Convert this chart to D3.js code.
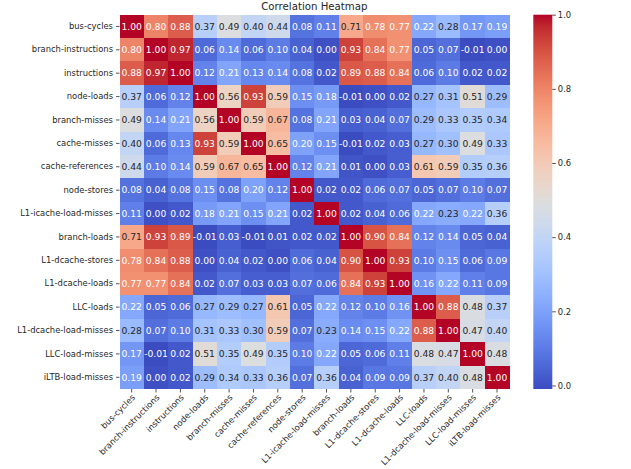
<!DOCTYPE html>
<html>
<head>
<meta charset="utf-8">
<script src="https://cdn.jsdelivr.net/npm/d3@7"></script>
<style>
  body { margin: 0; background: #fff; }
  text { font-family: "DejaVu Sans", sans-serif; }
</style>
</head>
<body>
<svg id="chart"></svg>
<script>
// counters, in row/column order
const labels = ["bus-cycles", "branch-instructions", "instructions", "node-loads", "branch-misses",
  "cache-misses", "cache-references", "node-stores", "L1-icache-load-misses", "branch-loads",
  "L1-dcache-stores", "L1-dcache-loads", "LLC-loads", "L1-dcache-load-misses", "LLC-load-misses",
  "iLTB-load-misses"];

const corr = [
  [1.00, 0.80, 0.88, 0.37, 0.49, 0.40, 0.44, 0.08, 0.11, 0.71, 0.78, 0.77, 0.22, 0.28, 0.17, 0.19],
  [0.80, 1.00, 0.97, 0.06, 0.14, 0.06, 0.10, 0.04, 0.00, 0.93, 0.84, 0.77, 0.05, 0.07, -0.01, 0.00],
  [0.88, 0.97, 1.00, 0.12, 0.21, 0.13, 0.14, 0.08, 0.02, 0.89, 0.88, 0.84, 0.06, 0.10, 0.02, 0.02],
  [0.37, 0.06, 0.12, 1.00, 0.56, 0.93, 0.59, 0.15, 0.18, -0.01, 0.00, 0.02, 0.27, 0.31, 0.51, 0.29],
  [0.49, 0.14, 0.21, 0.56, 1.00, 0.59, 0.67, 0.08, 0.21, 0.03, 0.04, 0.07, 0.29, 0.33, 0.35, 0.34],
  [0.40, 0.06, 0.13, 0.93, 0.59, 1.00, 0.65, 0.20, 0.15, -0.01, 0.02, 0.03, 0.27, 0.30, 0.49, 0.33],
  [0.44, 0.10, 0.14, 0.59, 0.67, 0.65, 1.00, 0.12, 0.21, 0.01, 0.00, 0.03, 0.61, 0.59, 0.35, 0.36],
  [0.08, 0.04, 0.08, 0.15, 0.08, 0.20, 0.12, 1.00, 0.02, 0.02, 0.06, 0.07, 0.05, 0.07, 0.10, 0.07],
  [0.11, 0.00, 0.02, 0.18, 0.21, 0.15, 0.21, 0.02, 1.00, 0.02, 0.04, 0.06, 0.22, 0.23, 0.22, 0.36],
  [0.71, 0.93, 0.89, -0.01, 0.03, -0.01, 0.01, 0.02, 0.02, 1.00, 0.90, 0.84, 0.12, 0.14, 0.05, 0.04],
  [0.78, 0.84, 0.88, 0.00, 0.04, 0.02, 0.00, 0.06, 0.04, 0.90, 1.00, 0.93, 0.10, 0.15, 0.06, 0.09],
  [0.77, 0.77, 0.84, 0.02, 0.07, 0.03, 0.03, 0.07, 0.06, 0.84, 0.93, 1.00, 0.16, 0.22, 0.11, 0.09],
  [0.22, 0.05, 0.06, 0.27, 0.29, 0.27, 0.61, 0.05, 0.22, 0.12, 0.10, 0.16, 1.00, 0.88, 0.48, 0.37],
  [0.28, 0.07, 0.10, 0.31, 0.33, 0.30, 0.59, 0.07, 0.23, 0.14, 0.15, 0.22, 0.88, 1.00, 0.47, 0.40],
  [0.17, -0.01, 0.02, 0.51, 0.35, 0.49, 0.35, 0.10, 0.22, 0.05, 0.06, 0.11, 0.48, 0.47, 1.00, 0.48],
  [0.19, 0.00, 0.02, 0.29, 0.34, 0.33, 0.36, 0.07, 0.36, 0.04, 0.09, 0.09, 0.37, 0.40, 0.48, 1.00]
];

const colorbarTicks = [0.0, 0.2, 0.4, 0.6, 0.8, 1.0];

// coolwarm (Moreland) control colours
const coolwarm = [
  [59,76,192],[68,90,204],[77,104,215],[87,117,225],[98,130,234],[108,142,241],[119,154,247],
  [130,165,251],[141,176,254],[152,185,255],[163,194,255],[174,201,253],[184,208,249],[194,213,244],
  [204,217,238],[213,219,230],[221,221,221],[229,216,209],[236,211,197],[241,204,185],[245,196,173],
  [247,187,160],[247,177,148],[247,166,135],[244,154,123],[241,141,111],[236,127,99],[229,112,88],
  [222,96,77],[213,80,66],[203,62,56],[192,40,47],[180,4,38]
];

const W = 631, H = 469;
const vmin = -0.0095, vmax = 1.0;
const heat = { left: 119.5, top: 14.7, right: 509.2, bottom: 389 };
const cbar = { left: 533.3, right: 552.3 };
const tickFont = "8.4px";

const svg = d3.select("#chart").attr("width", W).attr("height", H);

const cwScale = d3.scaleLinear()
  .domain(coolwarm.map((d, i) => i / (coolwarm.length - 1)))
  .range(coolwarm.map(c => d3.rgb(c[0], c[1], c[2])))
  .interpolate(d3.interpolateRgb)
  .clamp(true);
const color = v => cwScale((v - vmin) / (vmax - vmin));

const x = d3.scaleBand().domain(labels).range([heat.left, heat.right]);
const y = d3.scaleBand().domain(labels).range([heat.top, heat.bottom]);

// title
svg.append("text")
  .attr("x", (heat.left + heat.right) / 2)
  .attr("y", 10)
  .attr("text-anchor", "middle")
  .attr("font-size", "10.2px")
  .attr("fill", "#262626")
  .text("Correlation Heatmap");

const cells = [];
corr.forEach((row, i) => row.forEach((v, j) => cells.push({ r: labels[i], c: labels[j], v: v })));

svg.append("g").selectAll("rect")
  .data(cells)
  .join("rect")
  .attr("x", d => x(d.c))
  .attr("y", d => y(d.r))
  .attr("width", x.bandwidth() + 0.4)
  .attr("height", y.bandwidth() + 0.4)
  .attr("fill", d => color(d.v))
  .attr("shape-rendering", "crispEdges");

// luminance decides annotation colour, like seaborn
function lum(c) {
  const rgb = d3.rgb(c);
  const f = u => { u /= 255; return u <= 0.03928 ? u / 12.92 : Math.pow((u + 0.055) / 1.055, 2.4); };
  return 0.2126 * f(rgb.r) + 0.7152 * f(rgb.g) + 0.0722 * f(rgb.b);
}

svg.append("g").selectAll("text")
  .data(cells)
  .join("text")
  .attr("x", d => x(d.c) + x.bandwidth() / 2)
  .attr("y", d => y(d.r) + y.bandwidth() / 2)
  .attr("dy", "0.36em")
  .attr("text-anchor", "middle")
  .attr("font-size", "9.2px")
  .attr("fill", d => lum(color(d.v)) > 0.408 ? "#262626" : "#ffffff")
  .text(d => d3.format(".2f")(d.v).replace("−", "-"));

// axes
const yAxis = svg.append("g")
  .attr("transform", `translate(${heat.left},0)`)
  .call(d3.axisLeft(y).tickSize(3.5).tickPadding(3));
yAxis.select(".domain").remove();
yAxis.selectAll("text").attr("font-size", tickFont).attr("fill", "#262626").style("font-family", "DejaVu Sans");
yAxis.selectAll("line").attr("stroke", "#262626").attr("stroke-width", 0.8);

const xAxis = svg.append("g")
  .attr("transform", `translate(0,${heat.bottom})`)
  .call(d3.axisBottom(x).tickSize(3.5).tickPadding(3));
xAxis.select(".domain").remove();
xAxis.selectAll("line").attr("stroke", "#262626").attr("stroke-width", 0.8);
xAxis.selectAll("text")
  .attr("font-size", tickFont)
  .attr("fill", "#262626")
  .style("font-family", "DejaVu Sans")
  .attr("text-anchor", "end")
  .attr("dy", null)
  .attr("y", null)
  .attr("transform", "translate(4,9) rotate(-45)");

// colorbar
const cy = d3.scaleLinear().domain([vmin, vmax]).range([heat.bottom, heat.top]);
const grad = svg.append("defs").append("linearGradient")
  .attr("id", "cw-grad")
  .attr("x1", "0%").attr("y1", "100%")
  .attr("x2", "0%").attr("y2", "0%");
d3.range(0, 1.0001, 1 / 32).forEach(t => {
  grad.append("stop")
    .attr("offset", (t * 100) + "%")
    .attr("stop-color", cwScale(t));
});
svg.append("rect")
  .attr("x", cbar.left)
  .attr("y", heat.top)
  .attr("width", cbar.right - cbar.left)
  .attr("height", heat.bottom - heat.top)
  .attr("fill", "url(#cw-grad)");

const cAxis = svg.append("g")
  .attr("transform", `translate(${cbar.right},0)`)
  .call(d3.axisRight(cy).tickValues(colorbarTicks).tickFormat(d3.format(".1f")).tickSize(3.5).tickPadding(2));
cAxis.select(".domain").remove();
cAxis.selectAll("line").attr("stroke", "#262626").attr("stroke-width", 0.8);
cAxis.selectAll("text").attr("font-size", tickFont).attr("fill", "#262626").style("font-family", "DejaVu Sans");
</script>
</body>
</html>
